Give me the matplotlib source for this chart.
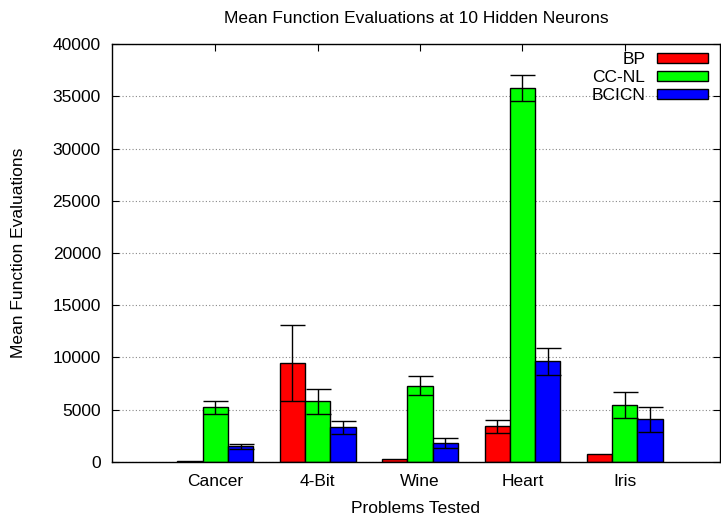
import matplotlib
matplotlib.use("Agg")
import matplotlib.pyplot as plt
import numpy as np

plt.rcParams['font.family'] = ['Liberation Sans', 'DejaVu Sans']

categories = ["Cancer", "4-Bit", "Wine", "Heart", "Iris"]
series = ["BP", "CC-NL", "BCICN"]
bp_mean = [120, 9450, 300, 3400, 720]
bp_err = [0, 3650, 0, 600, 0]
ccnl_mean = [5250, 5800, 7300, 35800, 5430]
ccnl_err = [620, 1200, 900, 1250, 1240]
bcicn_mean = [1500, 3300, 1800, 9650, 4100]
bcicn_err = [250, 600, 500, 1300, 1200]
colors = ["#ff0000", "#00ff00", "#0000ff"]
yticks = [0, 5000, 10000, 15000, 20000, 25000, 30000, 35000, 40000]

fig = plt.figure(figsize=(7.21, 5.16), dpi=100)
ax = fig.add_axes([0.1553, 0.1047, 0.8433, 0.81])

x = np.arange(len(categories))
w = 0.247
means = [bp_mean, ccnl_mean, bcicn_mean]
errs = [bp_err, ccnl_err, bcicn_err]
for i, (m, e, c, s) in enumerate(zip(means, errs, colors, series)):
    pos = x + (i - 1) * w
    ax.bar(pos, m, width=w, color=c, edgecolor='black', linewidth=1.0, label=s, zorder=2)
    ee = np.array(e, dtype=float)
    mask = ee > 0
    ax.errorbar(pos[mask], np.array(m)[mask], yerr=ee[mask], fmt='none', ecolor='black',
                elinewidth=1.0, capsize=9.0, capthick=1.0, zorder=3)

ax.set_xlim(-1.01, 4.93)
ax.set_ylim(0, 40000)
ax.set_yticks(yticks)
ax.set_xticks(x)
ax.set_xticklabels(categories)
ax.yaxis.grid(True, linestyle=(0, (1, 2)), color='#888888', linewidth=0.8, zorder=0)
ax.set_axisbelow(True)
ax.tick_params(direction='in', top=True, right=True, labelsize=12.5, length=5, width=0.8, pad=8)
ax.tick_params(axis='x', pad=9)
for sp in ax.spines.values():
    sp.set_linewidth(1.0)

ax.set_title("Mean Function Evaluations at 10 Hidden Neurons", fontsize=12.5, pad=15)
ax.set_xlabel("Problems Tested", fontsize=12.5, labelpad=8)
ax.set_ylabel("Mean Function Evaluations", fontsize=12.5, labelpad=19)

leg = ax.legend(loc='upper right', frameon=False, markerfirst=False, fontsize=12.5,
                handlelength=2.9, handleheight=0.55, labelspacing=0.18, handletextpad=0.7,
                borderaxespad=0.3, bbox_to_anchor=(1.0, 1.01))
for t in leg.get_texts():
    t.set_ha('right')

fig.savefig("out.png", dpi=100)
